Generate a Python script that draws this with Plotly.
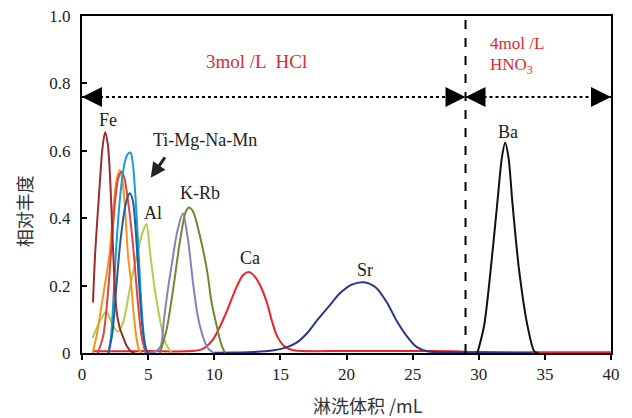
import plotly.graph_objects as go

# ---- data ----
fe_x = [0.83, 1.0, 1.34, 1.55, 1.75, 1.95, 2.15, 2.35, 2.6, 2.85, 3.1, 3.4, 3.7, 4.0]
fe_y = [0.15, 0.30, 0.50, 0.61, 0.655, 0.62, 0.50, 0.306, 0.128, 0.075, 0.048, 0.02, 0.005, 0.0]

orange_x = [0.8, 1.1, 1.46, 1.8, 2.1, 2.35, 2.6, 2.85, 3.05, 3.25, 3.48, 3.69, 3.9, 4.1, 4.3, 4.5]
orange_y = [0.0, 0.05, 0.137, 0.22, 0.30, 0.42, 0.51, 0.543, 0.515, 0.43, 0.29, 0.217, 0.12, 0.05, 0.01, 0.0]

red_x = [1.2, 1.6, 1.9, 2.2, 2.5, 2.75, 2.98, 3.2, 3.45, 3.7, 3.95, 4.2, 4.5, 4.8]
red_y = [0.0, 0.05, 0.15, 0.30, 0.45, 0.52, 0.538, 0.52, 0.46, 0.38, 0.28, 0.16, 0.05, 0.0]

lblue_x = [2.0, 2.2, 2.4, 2.6, 2.9, 3.2, 3.45, 3.67, 3.85, 4.05, 4.25, 4.45, 4.65, 4.85, 5.0]
lblue_y = [0.0, 0.05, 0.18, 0.32, 0.47, 0.56, 0.59, 0.595, 0.56, 0.46, 0.32, 0.17, 0.06, 0.01, 0.0]

dblue_x = [2.0, 2.3, 2.6, 2.9, 3.2, 3.42, 3.62, 3.85, 4.05, 4.25, 4.45, 4.65, 4.85, 5.0]
dblue_y = [0.0, 0.06, 0.20, 0.33, 0.42, 0.46, 0.474, 0.45, 0.37, 0.25, 0.13, 0.05, 0.01, 0.0]

al_x = [0.8, 1.3, 1.84, 2.3, 2.73, 3.1, 3.74, 4.24, 4.6, 4.87, 5.15, 5.5, 5.9, 6.3, 6.8]
al_y = [0.044, 0.09, 0.123, 0.085, 0.063, 0.09, 0.217, 0.306, 0.36, 0.383, 0.296, 0.19, 0.098, 0.03, 0.0]

k_x = [4.9, 5.6, 5.95, 6.2, 6.5, 6.8, 7.2, 7.63, 8.0, 8.43, 8.75, 9.07, 9.5, 9.95]
k_y = [0.0, 0.005, 0.02, 0.10, 0.19, 0.266, 0.36, 0.414, 0.34, 0.197, 0.11, 0.058, 0.015, 0.0]

rb_x = [5.9, 6.4, 6.92, 7.4, 7.85, 8.1, 8.4, 8.9, 9.45, 9.8, 10.2, 10.5, 10.8]
rb_y = [0.0, 0.07, 0.197, 0.33, 0.42, 0.432, 0.42, 0.35, 0.246, 0.15, 0.078, 0.03, 0.0]

ca_x = [0.8, 5.0, 9.0, 9.9, 10.8, 11.7, 12.2, 12.65, 13.1, 13.6, 14.0, 14.4, 14.75, 15.3, 16.0, 20.0, 25.0, 28.0, 30.0, 35.0, 40.0]
ca_y = [0.005, 0.006, 0.01, 0.04, 0.11, 0.197, 0.232, 0.24, 0.225, 0.19, 0.147, 0.09, 0.05, 0.02, 0.008, 0.006, 0.006, 0.005, 0.003, 0.002, 0.002]

sr_x = [10.0, 13.0, 14.5, 15.4, 16.2, 17.0, 17.8, 18.7, 19.5, 20.4, 21.3, 22.2, 23.1, 23.8, 24.6, 25.3, 26.1, 28.0, 34.0]
sr_y = [0.001, 0.003, 0.008, 0.016, 0.03, 0.058, 0.098, 0.14, 0.177, 0.203, 0.21, 0.195, 0.147, 0.095, 0.048, 0.018, 0.005, 0.002, 0.0]

ba_x = [29.9, 30.4, 30.9, 31.4, 31.75, 32.0, 32.25, 32.55, 33.05, 33.7, 34.2, 34.5]
ba_y = [0.0, 0.08, 0.246, 0.444, 0.58, 0.624, 0.58, 0.444, 0.246, 0.078, 0.005, 0.0]

series = [
    ("Ca", ca_x, ca_y, "#EE2227"),
    ("Sr", sr_x, sr_y, "#2A3590"),
    ("Al", al_x, al_y, "#B5CC4A"),
    ("K", k_x, k_y, "#8A7DC0"),
    ("Rb", rb_x, rb_y, "#6E8A30"),
    ("Ti", orange_x, orange_y, "#F7931E"),
    ("Mg", red_x, red_y, "#DD4540"),
    ("Na", lblue_x, lblue_y, "#1E9BD7"),
    ("Mn", dblue_x, dblue_y, "#1F5FA0"),
    ("Fe", fe_x, fe_y, "#9B2D30"),
    ("Ba", ba_x, ba_y, "#111111"),
]

x_ticks = [0, 5, 10, 15, 20, 25, 30, 35, 40]
y_ticks = [0, 0.2, 0.4, 0.6, 0.8, 1.0]
y_tick_text = ["0", "0.2", "0.4", "0.6", "0.8", "1.0"]

acid_switch = 29.0
arrow_y = 0.76

labels = [
    ("Fe", 1.97, 0.69),
    ("Ti-Mg-Na-Mn", 9.3, 0.632),
    ("Al", 5.38, 0.415),
    ("K-Rb", 8.94, 0.475),
    ("Ca", 12.73, 0.282),
    ("Sr", 21.4, 0.246),
    ("Ba", 32.2, 0.656),
]

SERIF = "Liberation Serif, Times New Roman, serif"
CJK = "Noto Sans CJK SC"

fig = go.Figure()
for name, xs, ys, col in series:
    fig.add_trace(go.Scatter(x=xs, y=ys, mode="lines", name=name,
                             line=dict(color=col, width=2, shape="spline", smoothing=0.8),
                             hoverinfo="skip", showlegend=False))

# dashed vertical line at acid switch
fig.add_shape(type="line", x0=acid_switch, x1=acid_switch, y0=0, y1=1, xref="x", yref="y",
              line=dict(color="black", width=2, dash="dash"))
# dotted horizontal ranges
fig.add_shape(type="line", x0=0, x1=acid_switch, y0=arrow_y, y1=arrow_y,
              line=dict(color="black", width=2, dash="dot"))
fig.add_shape(type="line", x0=acid_switch, x1=40, y0=arrow_y, y1=arrow_y,
              line=dict(color="black", width=2, dash="dot"))

# arrowheads
for tip, off in [(0, 18), (acid_switch, -18), (acid_switch, 18), (40, -18)]:
    fig.add_annotation(x=tip, y=arrow_y, ax=off, ay=0, xref="x", yref="y",
                       text="", showarrow=True, arrowhead=2, arrowsize=2.0,
                       arrowwidth=2, arrowcolor="black", standoff=0)

for txt, lx, ly in labels:
    fig.add_annotation(x=lx, y=ly, text=txt, showarrow=False,
                       font=dict(family=SERIF, size=18, color="#222"))

# arrow pointing to Ti-Mg-Na-Mn group
fig.add_annotation(x=5.2, y=0.52, ax=6.35, ay=0.585, axref="x", ayref="y",
                   xref="x", yref="y", text="", showarrow=True,
                   arrowhead=2, arrowsize=1.0, arrowwidth=3, arrowcolor="#222")

# acid labels
fig.add_annotation(x=13.2, y=0.864, text="3mol /L  HCl", showarrow=False,
                   font=dict(family=SERIF, size=19, color="#E8262B"))
fig.add_annotation(x=30.7, y=0.917, text="4mol /L", showarrow=False, xanchor="left",
                   font=dict(family=SERIF, size=17, color="#E8262B"))
fig.add_annotation(x=30.7, y=0.852, text="HNO<sub>3</sub>", showarrow=False, xanchor="left",
                   font=dict(family=SERIF, size=17, color="#E8262B"))

# axis titles
fig.add_annotation(x=-0.108, y=0.42, xref="paper", yref="paper", text="相对丰度",
                   xanchor="center", yanchor="middle",
                   textangle=-90, showarrow=False, font=dict(family=CJK, size=18, color="#333"))
fig.add_annotation(x=0.54, y=-0.154, xref="paper", yref="paper", text="淋洗体积 /mL",
                   xanchor="center", yanchor="middle",
                   showarrow=False, font=dict(family=CJK, size=18, color="#333"))

fig.update_xaxes(range=[0, 40], tickvals=x_ticks, ticks="outside", ticklen=5, tickwidth=1.5,
                 tickcolor="black", showline=True, linecolor="black", linewidth=2, mirror=True,
                 showgrid=False, zeroline=False, ticklabeloverflow="allow",
                 tickfont=dict(family=SERIF, size=17, color="#222"))
fig.update_yaxes(range=[0, 1], tickvals=y_ticks, ticktext=y_tick_text, ticks="inside", ticklen=5,
                 tickwidth=1.5, tickcolor="black", showline=True, linecolor="black", linewidth=2,
                 mirror=True, showgrid=False, zeroline=False, ticklabelstandoff=6,
                 ticklabeloverflow="allow",
                 tickfont=dict(family=SERIF, size=17, color="#222"))

# page body has an 8px margin, so the figure is 8px smaller than the window
fig.update_layout(width=624, height=410, margin=dict(l=74, r=21, t=8, b=65, autoexpand=False),
                  plot_bgcolor="white", paper_bgcolor="white")

fig.write_html("out.html")
